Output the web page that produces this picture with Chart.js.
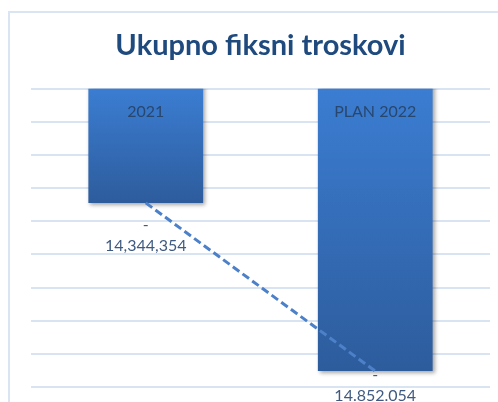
<!DOCTYPE html>
<html><head><meta charset="utf-8">
<script src="https://cdn.jsdelivr.net/npm/chart.js@4.4.1/dist/chart.umd.min.js"></script>
<style>
html,body{margin:0;padding:0;background:#fff;overflow:hidden;width:498px;height:402px}
#frame{position:absolute;left:8px;top:11px;width:600px;height:500px;border-left:2px solid #dae5f3;border-top:2px solid #dae5f3}
#c{position:absolute;left:0;top:0}
</style></head><body>
<div id="frame"></div>
<canvas id="c" width="498" height="402"></canvas>
<script>
const categories = ['2021', 'PLAN 2022'];
const values = [-14344354, -14852054];
const valueLabels = ['14,344,354', '14.852.054'];
const yMax = -14000000;
const yMin = -14900000;
const yStep = 100000;
const titleText = 'Ukupno fiksni troskovi';

const FONT = 'Lato';

const shadowPlugin = {
  id: 'barShadow',
  beforeDatasetDraw(chart, args) {
    if (args.index === 0) {
      const c = chart.ctx;
      c.save();
      c.shadowColor = 'rgba(0,0,0,0.35)';
      c.shadowBlur = 4;
      c.shadowOffsetX = 2;
      c.shadowOffsetY = 2;
    }
  },
  afterDatasetDraw(chart, args) {
    if (args.index === 0) chart.ctx.restore();
  }
};

const labelsPlugin = {
  id: 'barLabels',
  afterDatasetsDraw(chart) {
    const c = chart.ctx;
    const meta = chart.getDatasetMeta(0);
    const yScale = chart.scales.y;
    const topPx = yScale.getPixelForValue(yMax);
    c.save();
    c.font = '16px ' + FONT;
    c.textAlign = 'center';
    c.textBaseline = 'middle';
    meta.data.forEach((bar, i) => {
      const x = bar.x;
      const yPx = yScale.getPixelForValue(values[i]);
      c.fillStyle = '#28476f';
      c.fillText(categories[i], x, topPx + 23);
      const numY = Math.min(yPx + 43, 396);
      c.fillStyle = '#3f5a80';
      c.fillText('-', x, numY - 21);
      c.fillText(valueLabels[i], x, numY);
    });
    c.restore();
  }
};

new Chart(document.getElementById('c'), {
  data: {
    labels: categories,
    datasets: [
      {
        type: 'bar',
        data: values,
        order: 1,
        barPercentage: 1,
        categoryPercentage: 0.5,
        backgroundColor(ctx) {
          const chart = ctx.chart;
          const { chartArea, scales } = chart;
          if (!chartArea || ctx.dataIndex === undefined || !scales.y) return '#3570b9';
          const top = scales.y.getPixelForValue(yMax);
          const bot = scales.y.getPixelForValue(values[ctx.dataIndex]);
          const g = chart.ctx.createLinearGradient(0, top, 0, bot);
          g.addColorStop(0, '#3b7dd2');
          g.addColorStop(1, '#2d5c9c');
          return g;
        }
      },
      {
        type: 'line',
        data: values,
        order: 0,
        borderColor: '#4c80c8',
        borderWidth: 3,
        borderDash: [8, 4],
        pointRadius: 0,
        fill: false
      }
    ]
  },
  options: {
    responsive: false,
    devicePixelRatio: 1,
    animation: false,
    layout: { padding: { left: 31, right: 8, top: 0, bottom: 15 } },
    plugins: {
      legend: { display: false },
      tooltip: { enabled: false },
      title: {
        display: true,
        text: titleText,
        color: '#1f4a7e',
        font: { family: FONT, size: 29, weight: 'bold', lineHeight: 1.2 },
        padding: { top: 28, bottom: 26 }
      }
    },
    scales: {
      x: { display: false },
      y: {
        min: yMin,
        max: yMax,
        ticks: { display: false, stepSize: yStep },
        border: { display: false },
        grid: { color: '#d9e4f3', lineWidth: 2, drawTicks: false }
      }
    }
  },
  plugins: [shadowPlugin, labelsPlugin]
});
</script>
</body></html>
